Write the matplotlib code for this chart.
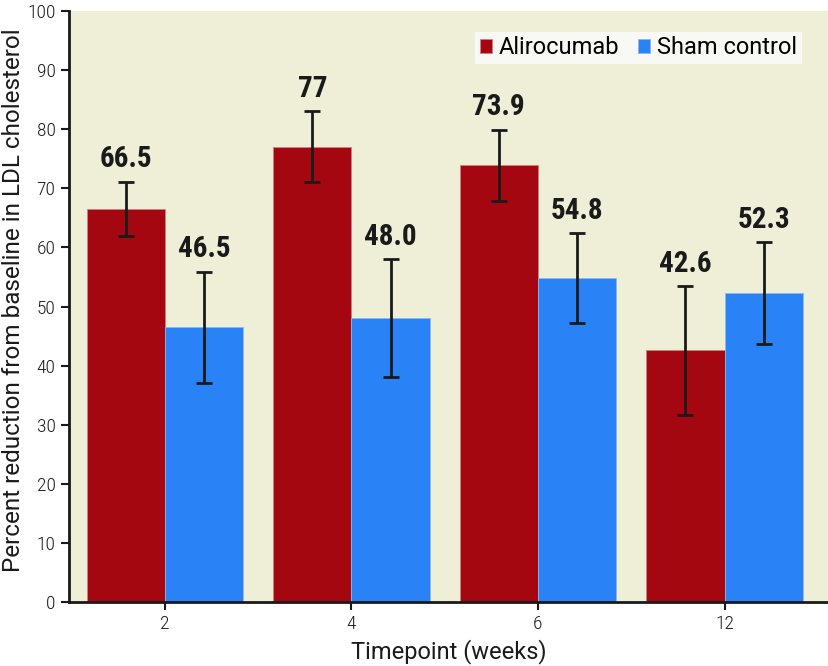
import matplotlib.pyplot as plt
import numpy as np

plt.rcParams['font.family'] = ['Roboto Condensed', 'DejaVu Sans']

timepoints = ['2', '4', '6', '12']
alirocumab = [66.5, 77, 73.9, 42.6]
alirocumab_err = [4.6, 6.0, 6.0, 10.9]
alirocumab_labels = ['66.5', '77', '73.9', '42.6']
sham = [46.5, 48.0, 54.8, 52.3]
sham_err = [9.4, 10.0, 7.6, 8.6]
sham_labels = ['46.5', '48.0', '54.8', '52.3']

red = '#a50711'
blue = '#2a82f7'
bg = '#efefd7'
ink = '#1a1a1a'
wide_font = ['Roboto', 'DejaVu Sans']

x_pos = np.arange(len(timepoints))
width = 0.42

fig = plt.figure(figsize=(8.29, 6.66), dpi=100)
ax = fig.add_axes([0.083, 0.096, 0.917, 0.8875])
ax.set_facecolor(bg)

err_style = dict(ecolor=ink, elinewidth=2, capsize=6, capthick=2)
ax.bar(x_pos - width / 2, alirocumab, width, color=red, edgecolor='#d08080', linewidth=0.6,
       yerr=alirocumab_err, error_kw=err_style, label='Alirocumab')
ax.bar(x_pos + width / 2, sham, width, color=blue, edgecolor='#8ab8f0', linewidth=0.6,
       yerr=sham_err, error_kw=err_style, label='Sham control')

# value labels above the error bars
for i in range(len(timepoints)):
    ax.annotate(alirocumab_labels[i], (x_pos[i] - width / 2, alirocumab[i] + alirocumab_err[i]),
                xytext=(0, 6), textcoords='offset points', ha='center', va='bottom',
                fontsize=21, fontweight='bold', color=ink)
    ax.annotate(sham_labels[i], (x_pos[i] + width / 2, sham[i] + sham_err[i]),
                xytext=(0, 6), textcoords='offset points', ha='center', va='bottom',
                fontsize=21, fontweight='bold', color=ink)

ax.set_xlim(-0.515, 3.56)
ax.set_ylim(0, 100)
ax.set_xticks(x_pos)
ax.set_xticklabels(timepoints)
ax.set_yticks(np.arange(0, 101, 10))
ax.tick_params(axis='both', labelsize=14, width=1.5, length=6, color=ink, labelcolor=ink)
for t in ax.get_xticklabels() + ax.get_yticklabels():
    t.set_fontweight('light')
ax.set_xlabel('Timepoint (weeks)', fontsize=17, color=ink, family=wide_font, labelpad=4)
ax.set_ylabel('Percent reduction from baseline in LDL cholesterol', fontsize=17.5,
              color=ink, family=wide_font)
ax.yaxis.set_label_coords(-0.058, 0.51)

for s in ['top', 'right']:
    ax.spines[s].set_visible(False)
for s in ['left', 'bottom']:
    ax.spines[s].set_linewidth(2)
    ax.spines[s].set_color(ink)

leg = ax.legend(loc='upper right', bbox_to_anchor=(0.98, 0.985), ncol=2,
                prop=dict(family=wide_font, size=17),
                frameon=True, fancybox=False, handlelength=0.5, handleheight=0.5,
                handletextpad=0.3, columnspacing=0.8, borderpad=0.2)
leg.get_frame().set_facecolor('#f8f8f4')
leg.get_frame().set_edgecolor('none')
leg.get_frame().set_alpha(1)

fig.savefig('out.png', dpi=100)
